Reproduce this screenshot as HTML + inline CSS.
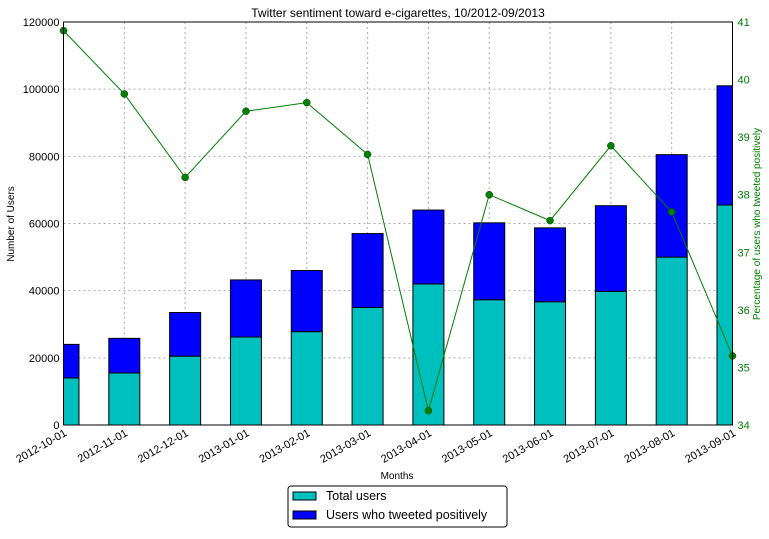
<!DOCTYPE html>
<html><head><meta charset="utf-8"><style>
body{margin:0;background:#fff;font-family:"Liberation Sans",sans-serif}
svg text{font-family:"Liberation Sans",sans-serif}
</style></head><body>
<svg id="c" width="769" height="534" xmlns="http://www.w3.org/2000/svg"></svg>
<script>
const categories=["2012-10-01","2012-11-01","2012-12-01","2013-01-01","2013-02-01","2013-03-01","2013-04-01","2013-05-01","2013-06-01","2013-07-01","2013-08-01","2013-09-01"];
const totalUsers=[14000,15500,20500,26200,27800,35000,42000,37300,36700,39800,50000,65500];
const positiveUsers=[10000,10300,13000,17000,18200,22000,22000,22900,22000,25500,30500,35500];
const percentPositive=[40.85,39.75,38.3,39.45,39.6,38.7,34.25,38.0,37.55,38.85,37.7,35.2];
const leftTicks=[0,20000,40000,60000,80000,100000,120000];
const rightTicks=[34,35,36,37,38,39,40,41];
const X0=63.5,X1=732.5,Y0=425,Y1=22;
const svg=document.getElementById('c');const NS='http://www.w3.org/2000/svg';
function el(t,a,txt){const e=document.createElementNS(NS,t);for(const k in a)e.setAttribute(k,a[k]);if(txt!==undefined)e.textContent=txt;svg.appendChild(e);return e;}
const sp=(X1-X0)/(categories.length-1);
const x=i=>X0+i*sp;
const yL=v=>Y0-(v/120000)*(Y0-Y1);
const yR=v=>Y0-((v-34)/7)*(Y0-Y1);
const cp=el('clipPath',{id:'clip'});const r=document.createElementNS(NS,'rect');r.setAttribute('x',X0);r.setAttribute('y',Y1);r.setAttribute('width',X1-X0);r.setAttribute('height',Y0-Y1);cp.appendChild(r);
// grid
leftTicks.forEach(v=>{const g=el('line',{x1:X0,x2:X1,y1:yL(v),y2:yL(v),stroke:'#aaa','stroke-dasharray':'2,3','stroke-width':1});
const t=el('text',{x:X0-4,y:yL(v)+4,'text-anchor':'end','font-size':11},String(v));});
categories.forEach((c,i)=>{const g=el('line',{x1:x(i),x2:x(i),y1:Y1,y2:Y0,stroke:'#aaa','stroke-dasharray':'2,3','stroke-width':1});
const t=el('text',{x:x(i)+4,y:Y0+10,'text-anchor':'end','font-size':11,transform:`rotate(-30 ${x(i)+4} ${Y0+10})`},c);});
// bars
const bw=31;
categories.forEach((c,i)=>{
const b1=el('rect',{x:x(i)-bw/2,y:yL(totalUsers[i]),width:bw,height:Y0-yL(totalUsers[i]),fill:'#00bfbf',stroke:'#000','stroke-width':1,'clip-path':'url(#clip)'});
const top=totalUsers[i]+positiveUsers[i];
const b2=el('rect',{x:x(i)-bw/2,y:yL(top),width:bw,height:yL(totalUsers[i])-yL(top),fill:'#0000ff',stroke:'#000','stroke-width':1,'clip-path':'url(#clip)'});});
// line
const pl=el('polyline',{points:percentPositive.map((v,i)=>x(i)+','+yR(v)).join(' '),fill:'none',stroke:'#008000','stroke-width':1});
percentPositive.forEach((v,i)=>{const p=el('circle',{cx:x(i),cy:yR(v),r:3.5,fill:'#008000',stroke:'#004000','stroke-width':0.5});});
// frame
const f=el('rect',{x:X0,y:Y1,width:X1-X0,height:Y0-Y1,fill:'none',stroke:'#000','stroke-width':1});
rightTicks.forEach(v=>{const t=el('text',{x:X1+5,y:yR(v)+4,'font-size':11,fill:'#008000'},String(v));});
const ti=el('text',{x:398,y:17,'text-anchor':'middle','font-size':12},'Twitter sentiment toward e-cigarettes, 10/2012-09/2013');
const yl=el('text',{x:14,y:224,'text-anchor':'middle','font-size':10,transform:'rotate(-90 14 224)'},'Number of Users');
const yr=el('text',{x:760,y:224,'text-anchor':'middle','font-size':10,fill:'#008000',transform:'rotate(-90 760 224)'},'Percentage of users who tweeted positively');
const xl=el('text',{x:397,y:479,'text-anchor':'middle','font-size':10},'Months');
const lg=el('rect',{x:288,y:486,width:219,height:41,rx:3,fill:'#fff',stroke:'#000','stroke-width':1});
const l1=el('rect',{x:293,y:492,width:23,height:8,fill:'#00bfbf',stroke:'#000'});
const t1=el('text',{x:326,y:500,'font-size':12.5},'Total users');
const l2=el('rect',{x:293,y:511,width:23,height:8,fill:'#0000ff',stroke:'#000'});
const t2=el('text',{x:326,y:519,'font-size':12.5},'Users who tweeted positively');
</script>
</body></html>
